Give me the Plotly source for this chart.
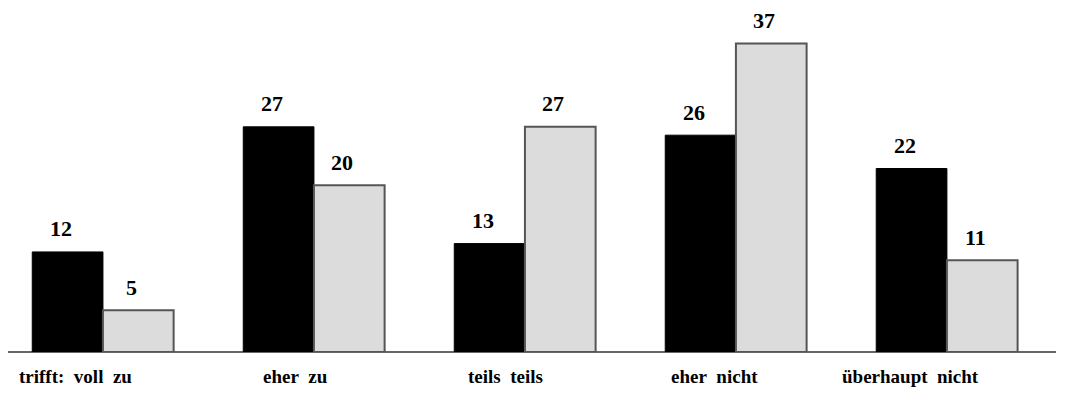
import plotly.graph_objects as go

categories = ["trifft: voll zu", "eher zu", "teils teils", "eher nicht", "überhaupt nicht"]
series_a = [12, 27, 13, 26, 22]
series_b = [5, 20, 27, 37, 11]
label_shift_px = [-27, -18, -19, -21, -36]

x = list(range(len(categories)))
bargap = 0.33
half = (1 - bargap) / 4  # offset of each bar centre from the category centre

fig = go.Figure()
fig.add_trace(go.Bar(
    x=x, y=series_a, name="A",
    marker=dict(color="#000000", line=dict(color="#000000", width=1)),
))
fig.add_trace(go.Bar(
    x=x, y=series_b, name="B",
    marker=dict(color="#dcdcdc", line=dict(color="#555555", width=2)),
))

for i, (a, b) in enumerate(zip(series_a, series_b)):
    for xv, v in ((i - half, a), (i + half, b)):
        fig.add_annotation(
            x=xv, y=v, xref="x", yref="y", text="<b>%d</b>" % v,
            showarrow=False, yanchor="middle", yshift=23, xshift=-7,
            font=dict(family="Liberation Serif", size=22, color="#000000"),
        )

for i, c in enumerate(categories):
    fig.add_annotation(
        x=i, y=0, xref="x", yref="y",
        text="<b>%s</b>" % c.replace(" ", "&nbsp;&nbsp;"),
        showarrow=False, yanchor="middle", yshift=-24, xshift=label_shift_px[i],
        font=dict(family="Liberation Serif", size=19, color="#000000"),
    )

fig.update_layout(
    width=1066, height=386,
    margin=dict(l=0, r=18, t=0, b=42),
    paper_bgcolor="white", plot_bgcolor="white",
    barmode="group", bargap=bargap, bargroupgap=0,
    showlegend=False,
    font=dict(family="Liberation Serif", size=17, color="#000000"),
)
fig.update_xaxes(range=[-0.450, 4.517], showticklabels=False, showgrid=False,
                 zeroline=False, showline=False, ticks="")
fig.update_yaxes(range=[0, 41.25], showticklabels=False, showgrid=False,
                 zeroline=True, zerolinecolor="#666666", zerolinewidth=1.5,
                 showline=False, ticks="")

fig.write_html("out.html")
